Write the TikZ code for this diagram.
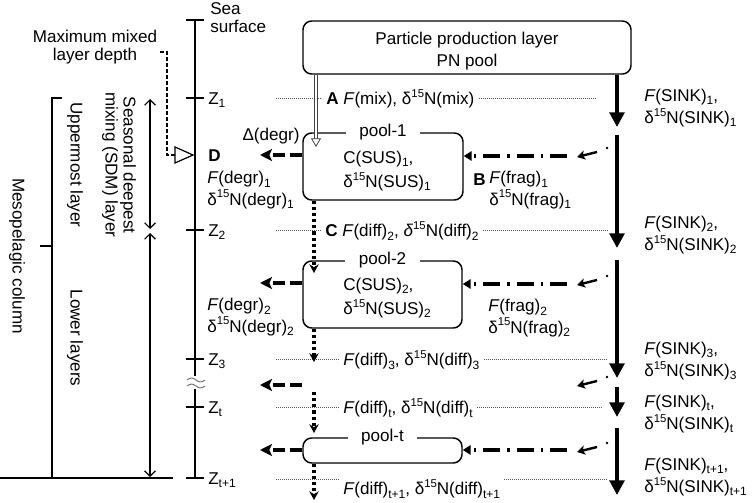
\documentclass[tikz,border=0pt]{standalone}
\usepackage{fontspec}
\setmainfont{Liberation Sans}
\usepackage{tikz}
\usetikzlibrary{arrows.meta,calc}

\newcommand{\lblfont}{\fontsize{12.8}{16.5}\selectfont}
\newcommand{\tightfont}{\fontsize{12.8}{13.5}\selectfont}
\newcommand{\pairfont}{\fontsize{12.8}{16}\selectfont}
\newcommand{\poolfont}{\fontsize{12.8}{18}\selectfont}
\newcommand{\subs}[1]{\raisebox{-0.2em}{\fontsize{9}{9}\selectfont #1}}
\newcommand{\sups}[1]{\raisebox{0.42em}{\fontsize{8.5}{8.5}\selectfont #1}}
\newcommand{\dN}{δ\sups{15}N}

\begin{document}
\begin{tikzpicture}[x=0.75pt, y=-0.75pt,
	every node/.style={font=\lblfont, inner sep=0pt},
	box/.style={draw, line width=1.1pt, rounded corners=6.5pt},
	tag/.style={fill=white, inner xsep=10pt, inner ysep=1pt},
	guide/.style={draw=black!65, line width=0.6pt, dash pattern=on 0.7pt off 0.8pt},
	scaleline/.style={line width=1.5pt},
	thinline/.style={line width=1.1pt},
	span/.style={line width=0.9pt, {Straight Barb[length=4pt, width=8pt]}-{Straight Barb[length=4pt, width=8pt]}},
	mldline/.style={line width=0.8pt, dash pattern=on 3pt off 1.5pt},
	sink/.style={line width=3pt, -{Triangle[length=11pt, width=11pt]}},
	diff/.style={line width=2.6pt, dash pattern=on 2.4pt off 2.2pt, -{Stealth[length=6.5pt, width=7pt]}},
	degr/.style={line width=2.6pt, dash pattern=on 9pt off 3.75pt, -{Stealth[length=9pt, width=9pt, inset=2pt]}},
	frag/.style={line width=2.6pt, dash pattern=on 12.75pt off 5.25pt on 1.8pt off 5.25pt, -{Triangle[length=6pt, width=7pt]}},
	stub/.style={line width=1.8pt, -{Stealth[length=6pt, width=7pt, inset=1.5pt]}},
	mix/.style={draw=black!75, line width=0.55pt, double=white, double distance=2pt, -{Triangle[open, length=6.5pt, width=7.5pt, line width=0.6pt]}},
]

	\useasboundingbox (0,0) rectangle (754,503);

	% ---- depth scale

	\draw[scaleline] (195,20) -- (195,376);
	\draw[scaleline] (195,389) -- (195,478);

	\foreach \y/\t [count=\i] in {98/1, 230/2, 359/3, 407/t, 478/t+1} {
		\draw[scaleline] (186,\y) -- (204,\y);
		\node[anchor=west] (z\i) at (208,\y+2) {Z\subs{\t}};
	}
	\draw[scaleline] (186,20) -- (204,20);
	\node[anchor=west, align=left, font=\tightfont] (sea) at (210,18) {Sea\\surface};

	\draw[black!55, line width=0.7pt] (187,380) sin (191.5,378) cos (196,380) sin (200.5,382) cos (205,380);
	\draw[black!55, line width=0.7pt] (187,386) sin (191.5,384) cos (196,386) sin (200.5,388) cos (205,386);

	% ---- left annotations

	\node[align=center, font=\tightfont] (mml) at (95,47) {Maximum mixed\\layer depth};
	\coordinate (c1) at (167,52);
	\coordinate (c2) at (167,155);
	\coordinate (tb) at (175,155);
	\draw[mldline] ($(c1)+(-7,0)$) -- (c1) -- (c2) -- (tb);
	\draw[line width=0.9pt, fill=white] (175,147) -- (193,155) -- (175,163) -- cycle;

	\node[rotate=-90, align=center, font=\tightfont] (sdm) at (119,165) {Seasonal deepest\\mixing (SDM) layer};
	\node[rotate=-90] (upl) at (75,165) {Uppermost layer};
	\node[rotate=-90] (lol) at (75,338) {Lower layers};
	\node[rotate=-90] (meso) at (17,256) {Mesopelagic column};

	\draw[span] (150,99) -- (150,229);
	\draw[span] (150,233) -- (150,477);

	\draw[thinline] (62,98) -- (52,98) -- (52,478);
	\draw[thinline] (52,246) -- (40,246);
	\draw[thinline] (0,478) -- (173,478);

	% ---- boxes

	\node[box, minimum width=246pt, minimum height=39.75pt] (prod) at (467,47.5) {};
	\node[align=center] (prodtxt) at (467,51) {Particle production layer\\PN pool};

	\node[box, minimum width=120pt, minimum height=50.25pt] (pool1) at (383,166.5) {};
	\node[box, minimum width=119.25pt, minimum height=50.25pt] (pool2) at (382.5,294.5) {};
	\node[box, minimum width=119.25pt, minimum height=18.75pt] (poolt) at (382.5,450.5) {};

	\node[tag] (tag1) at (pool1.north) {pool-1};
	\node[tag] (tag2) at (pool2.north) {pool-2};
	\node[tag] (tagt) at (poolt.north) {pool-t};

	\node[anchor=west, align=left, font=\poolfont] (sus1) at (343,171) {C(SUS)\subs{1},\\\dN(SUS)\subs{1}};
	\node[anchor=west, align=left, font=\poolfont] (sus2) at (343,298) {C(SUS)\subs{2},\\\dN(SUS)\subs{2}};

	% ---- layer boundaries

	\node[anchor=west, inner xsep=3pt] (m1) at (322,99) {\textbf{A} \textit{F}(mix), \dN(mix)};
	\node[anchor=west, inner xsep=3pt] (m2) at (321,231) {\textbf{C} \textit{F}(diff)\subs{2}, \textit{δ}\sups{15}N(diff)\subs{2}};
	\node[anchor=west, inner xsep=3pt] (m3) at (339,360) {\textit{F}(diff)\subs{3}, \dN(diff)\subs{3}};
	\node[anchor=west, inner xsep=3pt] (m4) at (339,408) {\textit{F}(diff)\subs{t}, \dN(diff)\subs{t}};
	\node[anchor=west, inner xsep=3pt] (m5) at (339,489) {\textit{F}(diff)\subs{t+1}, \dN(diff)\subs{t+1}};

	\coordinate (gl1) at (276,98);  \coordinate (gr1) at (595,98);
	\coordinate (gl2) at (276,230); \coordinate (gr2) at (607,230);
	\coordinate (gl3) at (276,359); \coordinate (gr3) at (607,359);
	\coordinate (gl4) at (276,407); \coordinate (gr4) at (602,407);
	\coordinate (gl5) at (276,479); \coordinate (gr5) at (607,479);

	\foreach \i in {1,...,5} {
		\draw[guide] (gl\i) -- (gl\i -| m\i.west);
		\draw[guide] (m\i.east |- gr\i) -- (gr\i);
	}

	% ---- sinking flux

	\coordinate (sb1) at (617,127);
	\coordinate (sa2) at (617,135); \coordinate (sb2) at (617,248);
	\coordinate (sa3) at (617,260); \coordinate (sb3) at (617,378);
	\coordinate (sa4) at (617,387); \coordinate (sb4) at (617,417);
	\coordinate (sa5) at (617,428); \coordinate (sb5) at (617,495);

	\draw[sink] (prod.south -| sb1) -- (sb1);
	\foreach \i in {2,...,5} { \draw[sink] (sa\i) -- (sb\i); }

	\node[anchor=west, align=left] (sk1) at (644,108) {\textit{F}(SINK)\subs{1},\\\dN(SINK)\subs{1}};
	\node[anchor=west, align=left] (sk2) at (644,235) {\textit{F}(SINK)\subs{2},\\\dN(SINK)\subs{2}};
	\node[anchor=west, align=left] (sk3) at (644,361) {\textit{F}(SINK)\subs{3},\\\dN(SINK)\subs{3}};
	\node[anchor=west, align=left] (sk4) at (644,414) {\textit{F}(SINK)\subs{t},\\\dN(SINK)\subs{t}};
	\node[anchor=west, align=left] (sk5) at (644,477) {\textit{F}(SINK)\subs{t+1},\\\dN(SINK)\subs{t+1}};

	% ---- mixing and diffusion

	\coordinate (mx) at (316,147);
	\draw[mix] (prod.south -| mx) -- (mx);

	\coordinate (d1) at (314,273);
	\coordinate (d2) at (314,362);
	\coordinate (d3a) at (314,392); \coordinate (d3b) at (314,433);
	\coordinate (d4) at (314,500);

	\draw[diff] (pool1.south -| d1) -- (d1);
	\draw[diff] (pool2.south -| d2) -- (d2);
	\draw[diff] (d3a) -- (d3b);
	\draw[diff] (poolt.south -| d4) -- (d4);

	% ---- degradation

	\coordinate (g1) at (260,155);
	\coordinate (g2) at (260,283);
	\coordinate (g3a) at (302,385); \coordinate (g3) at (260,385);
	\coordinate (g4) at (260,450);

	\draw[degr] (pool1.west |- g1) -- (g1);
	\draw[degr] (pool2.west |- g2) -- (g2);
	\draw[degr] (g3a) -- (g3);
	\draw[degr] (poolt.west |- g4) -- (g4);

	\node (dgr) at (271,136) {Δ(degr)};
	\node[anchor=west] (lD) at (208,156) {\textbf{D}};
	\node[anchor=west, align=left, font=\pairfont] (dg1) at (207,190) {\textit{F}(degr)\subs{1}\\\dN(degr)\subs{1}};
	\node[anchor=west, align=left, font=\pairfont] (dg2) at (207,317) {\textit{F}(degr)\subs{2}\\\dN(degr)\subs{2}};

	% ---- fragmentation

	\foreach \y [count=\i] in {156,284,385,451} {
		\coordinate (fd\i) at (607,\y-8);
		\coordinate (fa\i) at (597,\y-4);
		\coordinate (fb\i) at (577,\y+1);
		\fill (fd\i) circle (1.3);
		\draw[stub] (fa\i) -- (fb\i);
	}

	\coordinate (f1) at (567,156);
	\coordinate (f2) at (567,284);
	\coordinate (f4) at (567,450);

	\draw[frag] (f1) -- (f1 -| pool1.east);
	\draw[frag] (f2) -- (f2 -| pool2.east);
	\draw[frag] (f4) -- (f4 -| poolt.east);

	\node[anchor=west] (lB) at (473,180) {\textbf{B}};
	\node[anchor=west, align=left, font=\pairfont] (fr1) at (489,190) {\textit{F}(frag)\subs{1}\\\dN(frag)\subs{1}};
	\node[anchor=west, align=left, font=\pairfont] (fr2) at (488,318) {\textit{F}(frag)\subs{2}\\\dN(frag)\subs{2}};

\end{tikzpicture}
\end{document}
